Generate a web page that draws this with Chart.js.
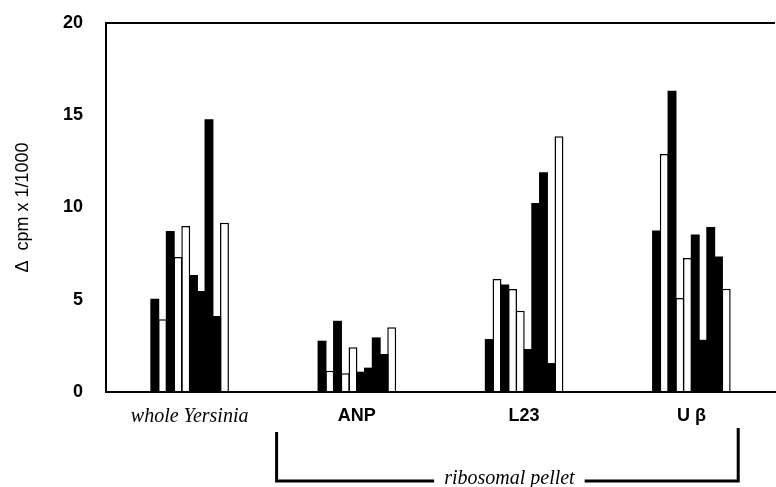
<!DOCTYPE html>
<html>
<head>
<meta charset="utf-8">
<script src="https://cdn.jsdelivr.net/npm/chart.js@4/dist/chart.umd.min.js"></script>
<style>
  html, body { margin: 0; padding: 0; background: #fff; }
  #wrap { width: 776px; height: 487px; }
</style>
</head>
<body>
<div id="wrap"><canvas id="chart"></canvas></div>
<script>
// categories along the x axis
var categories = ['whole Yersinia', 'ANP', 'L23', 'U \u03B2'];

// ten runs, one value per category (delta cpm / 1000)
var run1  = [5.06, 2.78, 2.87, 8.76];
var run2  = [3.94, 1.15, 6.12, 12.9];
var run3  = [8.73, 3.86, 5.82, 16.33];
var run4  = [7.32, 1.01, 5.58, 5.09];
var run5  = [9.0, 2.42, 4.41, 7.26];
var run6  = [6.34, 1.10, 2.33, 8.53];
var run7  = [5.47, 1.32, 10.24, 2.83];
var run8  = [14.78, 2.96, 11.91, 8.94];
var run9  = [4.12, 2.06, 1.57, 7.35];
var run10 = [9.18, 3.51, 13.86, 5.6];

var yTicks = [0, 5, 10, 15, 20];

var runs = [run1, run2, run3, run4, run5, run6, run7, run8, run9, run10];
var filled = [true, false, true, false, false, true, true, true, true, false];

var datasets = runs.map(function(r, i) {
    return {
        label: 'run ' + (i + 1),
        data: r,
        backgroundColor: filled[i] ? '#000' : '#fff',
        borderColor: '#000',
        borderWidth: filled[i] ? 0 : 1.5,
        barPercentage: 1.15,
        categoryPercentage: 0.463
    };
});

// bracket under the three ribosomal pellet groups
var bracketPlugin = {
    id: 'bracket',
    afterDraw: function(chart) {
        var ctx = chart.ctx;
        var x = chart.scales.x;
        var left = x.getPixelForValue(0.52);
        var right = x.getPixelForValue(3.28);
        var mid = (left + right) / 2 + 2;
        var yLine = 481;
        ctx.save();
        ctx.font = 'italic 20px "Liberation Serif", "Times New Roman", serif';
        var label = 'ribosomal pellet';
        var w = ctx.measureText(label).width;
        ctx.strokeStyle = '#000';
        ctx.lineWidth = 3;
        ctx.beginPath();
        ctx.moveTo(left, 432);
        ctx.lineTo(left, yLine);
        ctx.lineTo(mid - w / 2 - 10, yLine);
        ctx.moveTo(mid + w / 2 + 10, yLine);
        ctx.lineTo(right, yLine);
        ctx.lineTo(right, 428);
        ctx.stroke();
        ctx.fillStyle = '#000';
        ctx.textAlign = 'center';
        ctx.textBaseline = 'alphabetic';
        ctx.fillText(label, mid, 484);
        ctx.restore();
    }
};

new Chart(document.getElementById('chart').getContext('2d'), {
    type: 'bar',
    data: { labels: categories, datasets: datasets },
    plugins: [bracketPlugin],
    options: {
        responsive: true,
        maintainAspectRatio: false,
        animation: false,
        layout: { padding: { top: 0, right: 1, left: 0, bottom: 0 } },
        plugins: { legend: { display: false }, tooltip: { enabled: false } },
        scales: {
            x: {
                grid: { display: false, drawTicks: false },
                border: { display: true, color: '#000', width: 2 },
                afterFit: function(s) { s.height = 95; },
                ticks: {
                    color: '#000',
                    padding: 13,
                    maxRotation: 0,
                    font: function(c) {
                        if (c.index === 0) {
                            return { family: '"Liberation Serif", "Times New Roman", serif', style: 'italic', size: 20 };
                        }
                        return { family: '"Liberation Sans", Arial, sans-serif', weight: 'bold', size: 18 };
                    }
                }
            },
            y: {
                min: 0,
                max: 20,
                afterBuildTicks: function(s) {
                    s.ticks = yTicks.map(function(v) { return { value: v }; });
                },
                afterFit: function(s) { s.width = 106; s.paddingTop = 23; },
                grid: {
                    drawTicks: false,
                    color: function(c) { return c.tick && c.tick.value === 20 ? '#000' : 'rgba(0,0,0,0)'; },
                    lineWidth: 2
                },
                border: { display: true, color: '#000', width: 2 },
                ticks: {
                    color: '#000',
                    padding: 23,
                    font: { family: '"Liberation Sans", Arial, sans-serif', weight: 'bold', size: 18 }
                },
                title: {
                    display: true,
                    text: '\u0394  cpm x 1/1000',
                    color: '#000',
                    padding: { top: 12, bottom: 0 },
                    font: { family: '"Liberation Sans", Arial, sans-serif', size: 18 }
                }
            }
        }
    }
});
</script>
</body>
</html>
